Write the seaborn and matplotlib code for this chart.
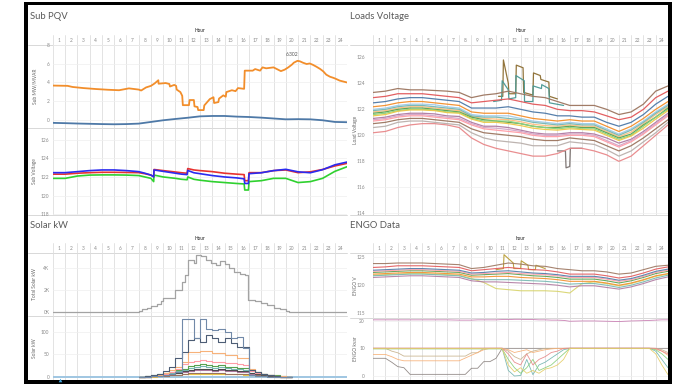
import numpy as np
import pandas as pd
import matplotlib
matplotlib.use("Agg")
import matplotlib.pyplot as plt
from matplotlib.patches import Rectangle
import seaborn as sns

# ---------------- data ----------------
hours = list(range(25))
hour_labels = [str(h) for h in range(1, 25)]

# Sub PQV : MW (orange) and MVAR (blue)
sub_mw_t = [0.0, 1.2, 1.6, 2.5, 3.5, 4.5, 5.4, 5.8, 6.2, 7.0,
            7.2, 7.6, 8.0, 8.3, 8.6, 8.62, 9.2, 9.5, 9.55, 9.9,
            10.05, 10.1, 10.4, 10.55, 10.6, 11.1, 11.15, 11.5, 11.55, 11.8,
            11.85, 12.3, 12.35, 12.8, 13.1, 13.15, 13.5, 13.55, 13.9, 14.1,
            14.15, 14.6, 14.9, 15.1, 15.6, 15.65, 16.3, 16.5, 16.9, 17.1,
            17.4, 18.0, 18.6, 18.9, 19.2, 19.5, 19.65, 19.95, 20.15, 20.4,
            20.7, 20.95, 21.2, 21.5, 21.8, 22.05, 22.3, 22.6, 22.9, 23.1,
            23.4, 24.0]
sub_mw = [3.65, 3.62, 3.50, 3.38, 3.28, 3.20, 3.15, 3.25, 3.35, 3.22,
          3.12, 3.45, 3.62, 3.88, 4.22, 3.85, 3.92, 3.82, 3.55, 3.72,
          3.62, 3.22, 2.95, 2.55, 1.55, 1.55, 2.10, 2.10, 1.42, 1.35,
          1.02, 1.02, 1.52, 2.20, 2.40, 1.78, 1.88, 2.25, 2.60, 2.45,
          2.95, 3.15, 3.05, 3.38, 3.30, 5.25, 5.25, 5.42, 5.25, 5.60,
          5.50, 5.60, 5.20, 5.35, 5.60, 5.90, 6.10, 6.302, 6.25, 6.10,
          5.96, 6.02, 5.88, 5.67, 5.43, 5.18, 4.82, 4.60, 4.47, 4.36,
          4.18, 3.98]
sub_mvar = [-0.35, -0.38, -0.42, -0.45, -0.48, -0.50, -0.48, -0.43, -0.25, -0.07,
            0.07, 0.20, 0.35, 0.39, 0.39, 0.32, 0.28, 0.21, 0.12, 0.03,
            0.05, 0.03, -0.07, -0.25, -0.28]

# Sub Voltage (three phases)
sv_t = [0, 1, 2, 3, 4, 5, 6, 7, 7.5, 8.0,
        8.22, 8.25, 9, 10, 10.5, 10.95, 11.0, 11.5, 12, 13,
        14, 15, 15.6, 15.65, 15.95, 16.0, 17, 18, 19, 20,
        21, 22, 23, 24]
sub_v_red = [122.3, 122.3, 122.4, 122.46, 122.5, 122.5, 122.48, 122.46, 122.35, 122.2,
             122.05, 122.8, 122.68, 122.53, 122.45, 122.4, 122.9, 122.75, 122.68, 122.57,
             122.4, 122.3, 122.25, 121.6, 121.6, 122.46, 122.46, 122.68, 122.75, 122.46,
             122.55, 122.8, 123.18, 123.46]
sub_v_blue = [122.46, 122.46, 122.57, 122.68, 122.75, 122.75, 122.68, 122.57, 122.4, 122.2,
              122.0, 122.75, 122.6, 122.4, 122.3, 122.25, 122.7, 122.45, 122.35, 122.15,
              122.0, 121.9, 121.8, 121.3, 121.3, 122.35, 122.45, 122.68, 122.82, 122.55,
              122.45, 122.78, 123.3, 123.6]
sub_v_green = [121.85, 121.85, 122.1, 122.2, 122.22, 122.22, 122.2, 122.15, 122.0, 121.85,
               121.5, 122.2, 122.0, 121.85, 121.75, 121.7, 122.0, 121.75, 121.65, 121.5,
               121.4, 121.3, 121.25, 120.6, 120.6, 121.5, 121.6, 121.85, 121.85, 121.4,
               121.5, 121.85, 122.6, 123.1]

# Total Solar kW (step)
solar_total_t = [0, 7.0, 7.3, 7.7, 8.0, 8.5, 8.8, 9.0, 10.0, 10.5,
                 10.8, 11.0, 11.5, 11.7, 12.1, 12.5, 12.9, 13.3, 13.6, 14.0,
                 14.4, 14.8, 15.3, 15.7, 15.95, 16.5, 17.0, 17.5, 18.0, 18.5,
                 19.0, 19.3, 24.0]
solar_total = [0, 120, 300, 420, 540, 720, 1000, 1250, 2000, 2700,
               3350, 4700, 4400, 5130, 5000, 4700, 4400, 4250, 4550, 4300,
               3950, 3650, 3400, 3300, 1100, 1000, 800, 650, 420, 300,
               120, 0, 0]

# Solar kW per unit (half-hour steps, 7:00 .. 19:30)
solar_t = [7.0, 7.5, 8.0, 8.5, 9.0, 9.5, 10.0, 10.5, 11.0, 11.5, 12.0, 12.5, 13.0,
           13.5, 14.0, 14.5, 15.0, 15.5, 16.0, 16.5, 17.0, 17.5, 18.0, 18.5, 19.0, 19.5]
solar_a = [0, 0, 1, 2, 4, 6, 10, 128, 128, 85, 128, 107, 104,
           107, 100, 86, 89, 63, 4, 2, 1, 0, 0, 0, 0, 0]
solar_b = [0, 1, 3, 6, 12, 22, 41, 55, 81, 85, 78, 93, 85,
           78, 85, 74, 67, 67, 15, 11, 6, 3, 1, 0, 0, 0]
solar_orange = [0, 0, 2, 4, 8, 14, 22, 33, 55, 55, 57, 57, 52,
                52, 48, 48, 41, 41, 18, 11, 7, 4, 2, 1, 0, 0]
solar_pink = [0, 0, 1, 3, 6, 10, 18, 28, 33, 35, 37, 35, 33,
              33, 30, 30, 28, 26, 12, 8, 5, 3, 1, 0, 0, 0]
solar_green = [0, 1, 3, 5, 9, 11, 15, 18, 24, 26, 28, 26, 24,
               26, 22, 22, 20, 20, 15, 10, 7, 4, 3, 1, 0, 0]
solar_teal = [0, 0, 2, 4, 7, 9, 12, 15, 20, 22, 24, 22, 20,
              22, 20, 18, 17, 16, 12, 8, 5, 3, 2, 0, 0, 0]
solar_dark = [0, 1, 2, 3, 5, 7, 9, 12, 16, 17, 18, 17, 16,
              17, 15, 14, 13, 12, 9, 6, 4, 2, 1, 0, 0, 0]
solar_purple = [0, 0, 1, 2, 4, 6, 8, 10, 13, 14, 15, 14, 13,
                14, 12, 12, 11, 10, 7, 5, 3, 2, 1, 0, 0, 0]
solar_yellow = [0, 0, 0, 1, 2, 3, 4, 5, 6, 7, 7, 7, 6,
                6, 6, 5, 5, 4, 3, 2, 1, 1, 0, 0, 0, 0]
solar_brown = [0, 0, 1, 1, 2, 3, 4, 6, 8, 8, 9, 8, 8,
               8, 7, 7, 6, 6, 4, 3, 2, 1, 0, 0, 0, 0]
solar_base_t = [0, 24]
solar_base = [0, 0]

# Loads Voltage (hourly, t = 0..24)
lv1 = [123.3, 123.4, 123.6, 123.5, 123.5, 123.45, 123.4, 123.3, 122.9, 123.1, 123.2, 123.4, 123.2, 123.0, 122.9, 122.6, 122.3, 122.3, 122.3, 122.0, 121.6, 121.8, 122.4, 123.4, 123.8]
lv2 = [122.9, 123.0, 123.2, 123.2, 123.2, 123.1, 123.0, 122.9, 122.5, 122.6, 122.7, 122.8, 122.6, 122.4, 122.3, 122.0, 121.9, 121.9, 121.8, 121.5, 121.2, 121.4, 122.0, 122.9, 123.4]
lv3 = [122.5, 122.6, 122.8, 122.9, 122.9, 122.8, 122.7, 122.6, 122.1, 122.1, 122.1, 122.2, 122.0, 121.8, 121.7, 121.5, 121.5, 121.4, 121.4, 121.0, 120.7, 121.0, 121.6, 122.4, 123.0]
lv4 = [122.2, 122.3, 122.5, 122.6, 122.6, 122.5, 122.4, 122.3, 121.8, 121.7, 121.7, 121.7, 121.5, 121.3, 121.2, 121.1, 121.2, 121.1, 121.1, 120.7, 120.3, 120.7, 121.3, 122.0, 122.6]
lv5 = [121.9, 122.0, 122.2, 122.3, 122.3, 122.2, 122.1, 122.0, 121.5, 121.4, 121.4, 121.3, 121.2, 121.0, 120.9, 120.8, 120.9, 120.8, 120.8, 120.4, 120.0, 120.4, 121.0, 121.7, 122.3]
lv6 = [121.7, 121.8, 122.0, 122.1, 122.1, 122.0, 121.9, 121.8, 121.4, 121.2, 121.1, 121.0, 120.9, 120.7, 120.6, 120.6, 120.7, 120.6, 120.6, 120.2, 119.8, 120.1, 120.8, 121.4, 122.1]
lv7 = [121.5, 121.6, 121.85, 121.95, 121.95, 121.9, 121.75, 121.7, 121.25, 121.0, 121.0, 120.9, 120.75, 120.55, 120.45, 120.4, 120.5, 120.45, 120.4, 120.0, 119.6, 119.95, 120.55, 121.25, 121.9]
lv8 = [121.3, 121.4, 121.6, 121.7, 121.7, 121.65, 121.5, 121.45, 121.0, 120.7, 120.7, 120.6, 120.4, 120.2, 120.1, 120.1, 120.2, 120.2, 120.1, 119.8, 119.4, 119.7, 120.3, 121.0, 121.7]
lv9 = [121.1, 121.2, 121.4, 121.5, 121.5, 121.4, 121.3, 121.2, 120.8, 120.5, 120.4, 120.3, 120.2, 120.0, 119.9, 119.9, 120.0, 120.0, 119.9, 119.5, 119.1, 119.5, 120.1, 120.8, 121.5]
lv10 = [120.9, 121.0, 121.2, 121.3, 121.3, 121.2, 121.1, 121.0, 120.5, 120.2, 120.1, 120.0, 119.9, 119.7, 119.6, 119.6, 119.8, 119.7, 119.6, 119.2, 118.8, 119.2, 119.8, 120.5, 121.2]
lv11 = [120.6, 120.7, 121.0, 121.1, 121.1, 121.0, 120.9, 120.8, 120.2, 119.8, 119.6, 119.5, 119.4, 119.2, 119.2, 119.2, 119.5, 119.4, 119.3, 118.9, 118.4, 118.8, 119.5, 120.2, 121.0]
lv12 = [120.2, 120.3, 120.6, 120.8, 120.9, 120.9, 120.8, 120.6, 119.8, 119.3, 119.0, 118.8, 118.6, 118.4, 118.4, 118.6, 119.0, 119.0, 118.8, 118.5, 118.0, 118.4, 119.2, 120.0, 120.8]
lv13 = [121.6, 121.7, 121.9, 122.0, 122.0, 121.95, 121.8, 121.75, 121.3, 121.1, 121.1, 121.1, 120.9, 120.7, 120.6, 120.5, 120.6, 120.5, 120.5, 120.1, 119.7, 120.0, 120.7, 121.4, 122.0]
lv14 = [122.0, 122.1, 122.3, 122.4, 122.4, 122.35, 122.2, 122.1, 121.6, 121.5, 121.5, 121.5, 121.3, 121.1, 121.0, 120.9, 121.0, 120.9, 120.9, 120.5, 120.1, 120.5, 121.1, 121.8, 122.4]
lv15 = [121.2, 121.3, 121.5, 121.6, 121.6, 121.5, 121.4, 121.3, 120.9, 120.6, 120.55, 120.45, 120.3, 120.1, 120.0, 120.0, 120.1, 120.1, 120.0, 119.6, 119.2, 119.6, 120.2, 120.9, 121.6]
lv16 = [121.8, 121.9, 122.1, 122.2, 122.2, 122.1, 122.0, 121.9, 121.45, 121.3, 121.25, 121.2, 121.05, 120.85, 120.75, 120.7, 120.8, 120.7, 120.7, 120.3, 119.9, 120.25, 120.9, 121.6, 122.2]
lv_spike1_t = [10.2, 10.55, 10.6, 11.0, 11.05, 11.6, 11.65, 12.2, 12.25, 13.0, 13.05, 13.6, 13.65, 14.3, 14.35, 15.0]
lv_spike1 = [123.0, 123.0, 125.8, 124.0, 123.2, 123.2, 125.4, 125.2, 123.3, 123.1, 124.8, 124.6, 124.3, 124.1, 123.0, 122.8]
lv_spike2_t = [9.8, 10.45, 10.5, 11.0, 11.05, 11.6, 11.62, 12.3, 12.32, 13.0, 13.02, 13.7, 13.72, 14.3, 14.35, 15.5]
lv_spike2 = [122.6, 122.7, 124.2, 123.5, 122.8, 122.9, 124.6, 124.2, 122.6, 122.6, 123.8, 123.6, 123.9, 123.6, 122.5, 122.3]
lv_dip_t = [15.0, 15.65, 15.7, 16.0, 16.05, 17.0]
lv_dip = [118.8, 118.8, 117.5, 117.6, 119.0, 119.0]

# ENGO V (hourly)
ev1 = [123.9, 123.9, 124.0, 124.0, 124.0, 123.9, 123.8, 123.7, 123.0, 123.2, 123.6, 124.0, 123.8, 123.5, 123.4, 123.0, 122.8, 122.6, 122.6, 122.4, 122.0, 122.2, 122.8, 123.4, 123.6]
ev2 = [123.2, 123.3, 123.5, 123.5, 123.5, 123.4, 123.3, 123.2, 122.6, 122.8, 123.0, 123.2, 123.0, 122.8, 122.7, 122.4, 122.0, 122.0, 122.0, 121.7, 121.3, 121.6, 122.2, 122.9, 123.3]
ev3 = [122.7, 122.8, 122.9, 123.0, 123.0, 122.9, 122.8, 122.7, 122.2, 122.3, 122.5, 122.6, 122.4, 122.2, 122.1, 121.9, 121.6, 121.6, 121.6, 121.3, 120.9, 121.2, 121.8, 122.5, 122.9]
ev4 = [122.3, 122.4, 122.5, 122.6, 122.6, 122.5, 122.4, 122.3, 121.8, 121.9, 122.0, 122.1, 121.9, 121.7, 121.6, 121.4, 121.1, 121.1, 121.1, 120.8, 120.4, 120.8, 121.4, 122.1, 122.5]
ev5 = [122.0, 122.1, 122.2, 122.3, 122.3, 122.2, 122.1, 122.0, 121.5, 121.5, 121.6, 121.6, 121.4, 121.3, 121.2, 121.0, 120.7, 120.7, 120.7, 120.4, 120.0, 120.4, 121.0, 121.7, 122.1]
ev6 = [121.7, 121.8, 121.9, 122.0, 122.0, 121.9, 121.8, 121.7, 121.1, 121.0, 121.0, 121.0, 120.9, 120.8, 120.7, 120.5, 120.2, 120.3, 120.3, 120.0, 119.6, 120.0, 120.6, 121.3, 121.8]
ev7 = [121.4, 121.5, 121.6, 121.7, 121.7, 121.6, 121.5, 121.4, 120.8, 120.6, 120.6, 120.5, 120.4, 120.3, 120.2, 120.0, 119.7, 119.9, 119.9, 119.6, 119.3, 119.7, 120.3, 121.0, 121.5]
ev8 = [121.8, 121.9, 122.0, 122.1, 122.1, 122.0, 121.9, 121.8, 121.2, 120.5, 119.4, 119.2, 119.0, 119.0, 119.0, 118.9, 118.6, 120.3, 120.6, 120.3, 119.9, 120.3, 120.9, 121.6, 122.0]
ev9 = [122.5, 122.6, 122.7, 122.8, 122.8, 122.7, 122.6, 122.5, 122.0, 122.1, 122.2, 122.3, 122.1, 122.0, 121.9, 121.7, 121.4, 121.4, 121.4, 121.1, 120.7, 121.0, 121.6, 122.3, 122.7]
ev_spike_t = [10.0, 10.6, 10.65, 11.4, 11.45, 12.0, 12.05, 12.6, 12.65, 13.2, 13.25, 14.0]
ev_spike = [122.8, 123.0, 125.5, 124.0, 123.0, 123.0, 124.4, 123.6, 122.8, 122.8, 123.6, 123.0]

# ENGO kvar
ek_t = [0, 1, 1.5, 2, 2.5, 3, 4, 5, 6, 7,
        7.5, 8, 8.5, 9, 9.5, 10, 10.5, 11, 11.5, 12,
        12.5, 13, 13.5, 14, 14.5, 15, 15.5, 16, 17, 18,
        19, 20, 21, 22, 22.5, 23, 23.5, 24]
ek_pink = [20.3, 20.3, 20.3, 20.3, 20.3, 20.3, 20.3, 20.3, 20.3, 20.2,
           20.2, 20.2, 20.3, 20.3, 20.3, 20.3, 20.4, 20.4, 20.5, 20.5,
           20.4, 20.4, 20.3, 20.3, 20.2, 20.2, 20.1, 19.8, 19.9, 19.9,
           19.8, 19.7, 19.9, 20.0, 20.1, 20.2, 20.3, 20.3]
ek_gray = [6.4, 6.4, 5.0, 3.4, 3.0, 0.6, 0.6, 0.6, 0.6, 0.6,
           0.6, 2.8, 2.8, 5.2, 5.2, 6.4, 10.0, 10.0, 10.0, 10.0,
           10.0, 10.0, 10.0, 10.0, 10.0, 10.0, 10.0, 10.0, 10.0, 10.0,
           10.0, 10.0, 10.0, 10.0, 10.0, 10.0, 10.0, 10.0]
ek_tan = [10.0, 10.0, 9.0, 8.4, 7.2, 7.2, 7.2, 7.2, 7.2, 7.2,
          7.2, 8.4, 8.4, 10.0, 10.0, 10.0, 10.0, 9.0, 7.0, 6.0,
          8.0, 9.0, 9.5, 10.0, 10.0, 10.0, 10.0, 10.0, 10.0, 10.0,
          10.0, 10.0, 10.0, 10.0, 10.0, 10.0, 9.5, 8.5]
ek_orange = [7.8, 7.8, 7.0, 6.0, 5.5, 5.5, 5.5, 5.5, 5.5, 5.5,
             6.5, 7.5, 8.5, 9.5, 10.0, 10.0, 10.0, 9.5, 8.5, 9.0,
             9.5, 8.5, 9.0, 9.5, 9.8, 10.0, 10.0, 10.0, 10.0, 10.0,
             10.0, 10.0, 10.0, 10.0, 10.0, 9.7, 9.0, 7.5]
ek_teal = [10.0, 10.0, 10.0, 10.0, 10.0, 10.0, 10.0, 10.0, 10.0, 10.0,
           10.0, 10.0, 10.0, 10.0, 10.0, 10.0, 10.0, 2.0, 0.0, 0.2,
           6.0, 0.5, 4.0, 5.0, 6.5, 8.0, 9.5, 10.0, 10.0, 10.0,
           10.0, 10.0, 10.0, 10.0, 10.0, 9.0, 6.0, 3.0]
ek_green = [9.8, 9.8, 9.8, 9.8, 9.8, 9.8, 9.8, 9.8, 9.8, 9.8,
            9.8, 9.8, 9.8, 9.8, 9.8, 9.8, 9.8, 6.0, 3.0, 1.0,
            3.0, 6.0, 2.0, 3.0, 4.0, 6.0, 8.0, 10.0, 10.0, 10.0,
            10.0, 10.0, 10.0, 10.0, 10.0, 9.5, 8.0, 6.0]
ek_red = [10.1, 10.1, 10.1, 10.1, 10.1, 10.1, 10.1, 10.1, 10.1, 10.1,
          10.1, 10.1, 10.1, 10.1, 10.1, 10.1, 10.1, 8.0, 5.0, 4.0,
          8.0, 4.0, 6.0, 7.0, 8.5, 9.0, 10.0, 10.1, 10.1, 10.1,
          10.1, 10.1, 10.1, 10.1, 10.1, 10.0, 9.0, 8.0]
ek_yellow = [9.9, 9.9, 9.9, 9.9, 9.9, 9.9, 9.9, 9.9, 9.9, 9.9,
             9.9, 9.9, 9.9, 9.9, 9.9, 9.9, 9.9, 4.0, 1.5, 3.0,
             1.0, 2.0, 1.0, 2.5, 3.0, 4.0, 6.0, 10.0, 9.9, 9.9,
             9.9, 9.9, 9.9, 9.9, 9.9, 8.0, 4.0, 0.5]

# ---------------- figure ----------------
sns.set_theme(style="white")
plt.rcParams['font.family'] = ['Lato', 'DejaVu Sans']

W, H = 680, 384
fig = plt.figure(figsize=(6.8, 3.84), dpi=100)
fig.patch.set_facecolor('white')


def box(x0, y0, x1, y1):
    return [x0 / W, 1 - y1 / H, (x1 - x0) / W, (y1 - y0) / H]


under = fig.add_axes([0, 0, 1, 1])
under.set_xlim(0, W); under.set_ylim(H, 0); under.axis('off')

LX0, LX1 = 52.9, 347.1
RX0, RX1 = 373.2, 668.0
GRID_V = '#dedede'
SEP = '#d2d2d2'
TICK_C = '#8a8a8a'

# section titles
for x, y, s in [(30, 16.5, 'Sub PQV'), (350, 16.5, 'Loads Voltage'),
                (30, 225, 'Solar kW'), (350, 225, 'ENGO Data')]:
    under.text(x, y, s, fontsize=6.8, color='#5a5a5a', va='center', ha='left')

# separators
for xa, xb, y in [(28, LX1, 45), (28, LX1, 128), (28, LX1, 215), (28, LX1, 253), (28, LX1, 316),
                  (350, RX1, 45), (350, RX1, 215), (350, RX1, 253), (350, RX1, 318)]:
    under.plot([xa, xb], [y, y], color=SEP, lw=0.6)


def header(x0, x1, ytop, ybot, label):
    hax = fig.add_axes(box(x0, ytop, x1, ybot))
    hax.set_xlim(0, 24); hax.set_ylim(0, 1); hax.axis('off')
    for i in hours:
        hax.plot([i, i], [0, 1], color=GRID_V, lw=0.6)
    for i, lab in enumerate(hour_labels):
        hax.text(i + 0.5, 0.5, lab, ha='center', va='center', fontsize=3.4, color=TICK_C)
    under.text((x0 + x1) / 2, ytop - 4, label, ha='center', va='center',
               fontsize=3.4, color='#555', fontweight='bold')


header(LX0, LX1, 35, 45, 'Hour')
header(RX0, RX1, 35, 45, 'Hour')
header(LX0, LX1, 243, 253, 'Hour')
header(RX0, RX1, 243, 253, 'hour')


def pane(x0, x1, y0, y1, ylim, ticks, ticklabels, pad):
    ax = fig.add_axes(box(x0, y0, x1, y1))
    ax.set_facecolor('none')
    return ax, (ylim, ticks, ticklabels, pad)


def finish(ax, spec, ylabel, labx):
    ylim, ticks, ticklabels, pad = spec
    ax.set_xlim(0, 24)
    ax.set_ylim(*ylim)
    ax.set_xticks(hours)
    ax.set_xticklabels([])
    ax.set_yticks(ticks)
    ax.set_yticklabels(ticklabels)
    ax.tick_params(axis='both', length=0, labelsize=3.5, labelcolor=TICK_C, pad=pad)
    ax.grid(True, axis='x', color=GRID_V, lw=0.6)
    ax.grid(True, axis='y', color='#efefef', lw=0.5)
    ax.set_axisbelow(True)
    for s in ax.spines.values():
        s.set_visible(False)
    ax.set_xlabel('')
    ax.set_ylabel(ylabel, fontsize=3.5, color='#666')
    ax.yaxis.set_label_coords(labx, 0.5)


def draw(ax, groups, palette, lw, alpha=1.0, steps=False):
    frames = []
    for name, t, v in groups:
        if len(t) != len(v):
            raise ValueError(f"length mismatch in {name}: {len(t)} vs {len(v)}")
        frames.append(pd.DataFrame({'t': t, 'v': v, 's': name}))
    df = pd.concat(frames, ignore_index=True)
    kw = {'drawstyle': 'steps-post'} if steps else {}
    sns.lineplot(data=df, x='t', y='v', hue='s', palette=palette, estimator=None,
                 sort=False, legend=False, ax=ax, linewidth=lw, alpha=alpha, **kw)


LAB_L = -0.054
LAB_R = -0.052

# ---- Sub MW / MVAR ----
ax, sp = pane(LX0, LX1, 45, 128, (-0.9, 8.0), [0, 2, 4, 6, 8], ['0', '2', '4', '6', '8'], 2.5)
draw(ax, [('MVAR', hours, sub_mvar)], {'MVAR': '#4e79a7'}, 1.3)
draw(ax, [('MW', sub_mw_t, sub_mw)], {'MW': '#f28e2b'}, 1.3)
finish(ax, sp, 'Sub MW/MVAR', LAB_L)
i_pk = int(np.argmax(sub_mw))
ax.annotate(f"{sub_mw[i_pk]:.3f}", xy=(sub_mw_t[i_pk], sub_mw[i_pk]), xytext=(-4, 3),
            textcoords='offset points', fontsize=3.6, color='#555', ha='center', va='bottom')

# ---- Sub Voltage ----
ax, sp = pane(LX0, LX1, 128, 215, (117.92, 127.25), [118, 120, 122, 124, 126],
              ['118', '120', '122', '124', '126'], 2.5)
draw(ax, [('G', sv_t, sub_v_green), ('R', sv_t, sub_v_red), ('B', sv_t, sub_v_blue)],
     {'G': '#2fd12f', 'R': '#e8322f', 'B': '#2b2bf0'}, 1.2)
finish(ax, sp, 'Sub Voltage', LAB_L)

# ---- Total Solar ----
ax, sp = pane(LX0, LX1, 253, 316, (-330, 5310), [0, 2000, 4000], ['0K', '2K', '4K'], 2.5)
draw(ax, [('T', solar_total_t, solar_total)], {'T': '#a3a3a3'}, 0.9, steps=True)
finish(ax, sp, 'Total Solar kW', LAB_L)

# ---- Solar kW ----
ax, sp = pane(LX0, LX1, 316, 380, (-7.3, 135), [0, 50, 100], ['0', '50', '100'], 2.5)
draw(ax, [('base', solar_base_t, solar_base)], {'base': '#9fc6e2'}, 1.4)
solar_groups = [('yellow', solar_t, solar_yellow), ('brown', solar_t, solar_brown),
                ('purple', solar_t, solar_purple), ('dark', solar_t, solar_dark),
                ('teal', solar_t, solar_teal), ('green', solar_t, solar_green),
                ('pink', solar_t, solar_pink), ('orange', solar_t, solar_orange),
                ('b', solar_t, solar_b), ('a', solar_t, solar_a)]
solar_pal = {'yellow': '#edc948', 'brown': '#9c755f', 'purple': '#b07aa1', 'dark': '#4a4a4a',
             'teal': '#76b7b2', 'green': '#59a14f', 'pink': '#ff9da7', 'orange': '#f7b27a',
             'b': '#4d5d75', 'a': '#7189a8'}
draw(ax, solar_groups, solar_pal, 0.8, steps=True)
finish(ax, sp, 'Solar kW', LAB_L)

# ---- Loads Voltage ----
ax, sp = pane(RX0, RX1, 45, 215, (113.87, 126.95), [114, 116, 118, 120, 122, 124, 126],
              ['114', '116', '118', '120', '122', '124', '126'], 6)
lv_groups = [('sp1', lv_spike1_t, lv_spike1), ('sp2', lv_spike2_t, lv_spike2),
             ('dip', lv_dip_t, lv_dip),
             ('lv12', hours, lv12), ('lv11', hours, lv11), ('lv10', hours, lv10),
             ('lv1', hours, lv1), ('lv2', hours, lv2), ('lv3', hours, lv3),
             ('lv14', hours, lv14), ('lv4', hours, lv4), ('lv16', hours, lv16),
             ('lv5', hours, lv5), ('lv6', hours, lv6), ('lv13', hours, lv13),
             ('lv7', hours, lv7), ('lv8', hours, lv8), ('lv15', hours, lv15),
             ('lv9', hours, lv9)]
lv_pal = {'sp1': '#8c6d31', 'sp2': '#499894', 'dip': '#79706e',
          'lv1': '#9c755f', 'lv2': '#e15759', 'lv3': '#4e79a7', 'lv4': '#f28e2b',
          'lv5': '#76b7b2', 'lv6': '#59a14f', 'lv7': '#edc948', 'lv8': '#b07aa1',
          'lv9': '#ff9da7', 'lv10': '#9c755f', 'lv11': '#bab0ac', 'lv12': '#e8888a',
          'lv13': '#8cd17d', 'lv14': '#a0cbe8', 'lv15': '#d4a6c8', 'lv16': '#ffbe7d'}
draw(ax, lv_groups, lv_pal, 0.9, alpha=0.95)
finish(ax, sp, 'Load Voltage', LAB_R)

# ---- ENGO V ----
ax, sp = pane(RX0, RX1, 253, 318, (114.1, 125.8), [115, 120, 125], ['115', '120', '125'], 6)
ev_groups = [('evs', ev_spike_t, ev_spike), ('ev8', hours, ev8), ('ev7', hours, ev7),
             ('ev6', hours, ev6), ('ev5', hours, ev5), ('ev4', hours, ev4),
             ('ev9', hours, ev9), ('ev3', hours, ev3), ('ev2', hours, ev2), ('ev1', hours, ev1)]
ev_pal = {'evs': '#b6992d', 'ev1': '#9c755f', 'ev2': '#e15759', 'ev3': '#4e79a7',
          'ev4': '#59a14f', 'ev5': '#f28e2b', 'ev6': '#76b7b2', 'ev7': '#b07aa1',
          'ev8': '#d7d36a', 'ev9': '#ff9da7'}
draw(ax, ev_groups, ev_pal, 0.8, alpha=0.9)
finish(ax, sp, 'ENGO V', LAB_R)

# ---- ENGO kvar ----
ax, sp = pane(RX0, RX1, 318, 380, (-1.44, 20.97), [0, 10, 20], ['0', '10', '20'], 6)
ek_groups = [('gray', ek_t, ek_gray), ('tan', ek_t, ek_tan), ('orange', ek_t, ek_orange),
             ('teal', ek_t, ek_teal), ('green', ek_t, ek_green), ('red', ek_t, ek_red),
             ('yellow', ek_t, ek_yellow), ('pink', ek_t, ek_pink)]
ek_pal = {'gray': '#8f8784', 'tan': '#c9b48f', 'orange': '#f7b27a', 'teal': '#76b7b2',
          'green': '#8cd17d', 'red': '#e88a8a', 'yellow': '#e6cf6a', 'pink': '#c77ab0'}
draw(ax, ek_groups, ek_pal, 0.6, alpha=0.95)
finish(ax, sp, 'ENGO kvar', LAB_R)

# ---- black frame on top ----
top = fig.add_axes([0, 0, 1, 1])
top.set_xlim(0, W); top.set_ylim(H, 0); top.axis('off'); top.patch.set_alpha(0)
for (x, y, w, h) in [(24, 1.5, 648, 3.5), (24, 1.5, 4, 383), (668, 1.5, 4, 383), (24, 380, 648, 4.5)]:
    top.add_patch(Rectangle((x, y), w, h, color='black', lw=0))
top.plot([60], [380], marker='^', ms=2.6, color='#3fa3dc', mec='none')

fig.savefig('out.png', dpi=100, facecolor='white')
